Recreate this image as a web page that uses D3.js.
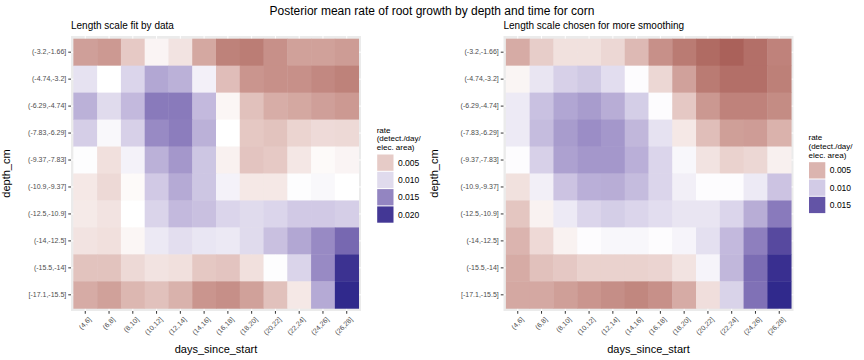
<!DOCTYPE html>
<html>
<head>
<meta charset="utf-8">
<script src="https://cdnjs.cloudflare.com/ajax/libs/d3/7.8.5/d3.min.js"></script>
<style>
  body { margin: 0; background: #fff; }
  svg { font-family: "Liberation Sans", Arial, Helvetica, sans-serif; }
</style>
</head>
<body>
<svg id="chart" width="864" height="360"></svg>
<script>
// Categories
var days = ["(4,6]", "(6,8]", "(8,10]", "(10,12]", "(12,14]", "(14,16]",
            "(16,18]", "(18,20]", "(20,22]", "(22,24]", "(24,26]", "(26,28]"];
var depths = ["(-3.2,-1.66]", "(-4.74,-3.2]", "(-6.29,-4.74]", "(-7.83,-6.29]", "(-9.37,-7.83]",
              "(-10.9,-9.37]", "(-12.5,-10.9]", "(-14,-12.5]", "(-15.5,-14]", "[-17.1,-15.5]"];

// Posterior mean rates, one row per depth (top to bottom), one column per day bin
var rateFit = [
  [0.0024, 0.0020, 0.0049, 0.0074, 0.0064, 0.0029, 0.0006, 0.0003, 0.0015, 0.0025, 0.0025, 0.0022],
  [0.0096, 0.0080, 0.0103, 0.0130, 0.0124, 0.0088, 0.0042, 0.0018, 0.0015, 0.0015, 0.0010, 0.0006],
  [0.0124, 0.0100, 0.0119, 0.0157, 0.0157, 0.0119, 0.0075, 0.0044, 0.0032, 0.0029, 0.0024, 0.0020],
  [0.0107, 0.0084, 0.0106, 0.0147, 0.0155, 0.0124, 0.0080, 0.0048, 0.0045, 0.0055, 0.0059, 0.0058],
  [0.0081, 0.0062, 0.0087, 0.0124, 0.0139, 0.0112, 0.0072, 0.0046, 0.0049, 0.0066, 0.0077, 0.0074],
  [0.0067, 0.0058, 0.0077, 0.0110, 0.0128, 0.0112, 0.0087, 0.0067, 0.0067, 0.0081, 0.0084, 0.0080],
  [0.0068, 0.0064, 0.0080, 0.0104, 0.0119, 0.0115, 0.0103, 0.0100, 0.0103, 0.0110, 0.0110, 0.0107],
  [0.0064, 0.0062, 0.0075, 0.0092, 0.0098, 0.0094, 0.0092, 0.0100, 0.0115, 0.0130, 0.0147, 0.0168],
  [0.0045, 0.0045, 0.0058, 0.0064, 0.0062, 0.0048, 0.0046, 0.0062, 0.0081, 0.0104, 0.0147, 0.0204],
  [0.0031, 0.0025, 0.0038, 0.0044, 0.0035, 0.0018, 0.0014, 0.0025, 0.0044, 0.0067, 0.0128, 0.0210]
];
var rateSmooth = [
  [0.0046, 0.0060, 0.0068, 0.0068, 0.0064, 0.0052, 0.0035, 0.0026, 0.0019, 0.0015, 0.0021, 0.0029],
  [0.0076, 0.0090, 0.0098, 0.0101, 0.0093, 0.0081, 0.0064, 0.0042, 0.0026, 0.0021, 0.0021, 0.0028],
  [0.0088, 0.0104, 0.0115, 0.0119, 0.0112, 0.0099, 0.0081, 0.0058, 0.0038, 0.0029, 0.0029, 0.0033],
  [0.0088, 0.0106, 0.0119, 0.0125, 0.0121, 0.0108, 0.0091, 0.0071, 0.0054, 0.0041, 0.0040, 0.0049],
  [0.0081, 0.0098, 0.0117, 0.0121, 0.0121, 0.0111, 0.0096, 0.0083, 0.0069, 0.0062, 0.0064, 0.0074],
  [0.0068, 0.0086, 0.0103, 0.0111, 0.0112, 0.0106, 0.0096, 0.0086, 0.0081, 0.0081, 0.0088, 0.0103],
  [0.0057, 0.0075, 0.0088, 0.0096, 0.0099, 0.0096, 0.0093, 0.0090, 0.0090, 0.0096, 0.0112, 0.0133],
  [0.0050, 0.0065, 0.0075, 0.0081, 0.0083, 0.0083, 0.0081, 0.0084, 0.0092, 0.0107, 0.0131, 0.0155],
  [0.0046, 0.0055, 0.0058, 0.0062, 0.0062, 0.0062, 0.0063, 0.0069, 0.0084, 0.0108, 0.0139, 0.0167],
  [0.0045, 0.0045, 0.0041, 0.0037, 0.0034, 0.0031, 0.0035, 0.0046, 0.0067, 0.0097, 0.0137, 0.0170]
];

// Legend breaks
var breaksFit = [0.005, 0.010, 0.015, 0.020];
var breaksSmooth = [0.005, 0.010, 0.015];

var midpoint = 0.008;  // white point of the diverging fill
var lowColor = "#832424", highColor = "#30298C";

var svg = d3.select("#chart");

// Main title
svg.append("text")
    .attr("x", 432).attr("y", 14.5)
    .attr("text-anchor", "middle")
    .style("font-size", "12px")
    .text("Posterior mean rate of root growth by depth and time for corn");

// Draw one heatmap panel with its axes and legend
function drawPanel(opts) {
    var left = opts.left, top = 36, width = 290, height = 275;

    var x = d3.scaleBand().domain(days).range([left, left + width]).paddingInner(0).paddingOuter(0.1);
    var y = d3.scaleBand().domain(depths).range([top, top + height]).paddingInner(0).paddingOuter(0.1);

    // ggplot style gradient2: symmetric around midpoint
    var flat = d3.merge(opts.rates);
    var span = d3.max(flat, function(v) { return Math.abs(v - midpoint); });
    var color = d3.scaleDiverging()
        .domain([midpoint - span, midpoint, midpoint + span])
        .interpolator(d3.piecewise(d3.interpolateLab, [lowColor, "#ffffff", highColor]));

    var g = svg.append("g");

    // subtitle
    g.append("text")
        .attr("x", left).attr("y", 28.5)
        .style("font-size", "10px")
        .text(opts.title);

    // panel background
    g.append("rect")
        .attr("x", left).attr("y", top)
        .attr("width", width).attr("height", height)
        .attr("fill", "#EBEBEB");

    // grid lines (only visible in the margins)
    g.selectAll(".vgrid").data(days).enter().append("line")
        .attr("x1", function(d) { return x(d) + x.bandwidth() / 2; })
        .attr("x2", function(d) { return x(d) + x.bandwidth() / 2; })
        .attr("y1", top).attr("y2", top + height)
        .attr("stroke", "#fff").attr("stroke-width", 1);
    g.selectAll(".hgrid").data(depths).enter().append("line")
        .attr("y1", function(d) { return y(d) + y.bandwidth() / 2; })
        .attr("y2", function(d) { return y(d) + y.bandwidth() / 2; })
        .attr("x1", left).attr("x2", left + width)
        .attr("stroke", "#fff").attr("stroke-width", 1);

    // tiles
    var cells = [];
    opts.rates.forEach(function(row, i) {
        row.forEach(function(v, j) {
            cells.push({ depth: depths[i], day: days[j], rate: v });
        });
    });
    g.selectAll(".tile").data(cells).enter().append("rect")
        .attr("class", "tile")
        .attr("x", function(d) { return x(d.day); })
        .attr("y", function(d) { return y(d.depth); })
        .attr("width", x.bandwidth() + 0.4)
        .attr("height", y.bandwidth() + 0.4)
        .attr("fill", function(d) { return color(d.rate); });

    // y axis
    var yAxis = g.append("g")
        .attr("transform", "translate(" + left + ",0)")
        .call(d3.axisLeft(y).tickSize(2.75).tickPadding(2));
    yAxis.select(".domain").remove();
    yAxis.selectAll("line").attr("stroke", "#333333");
    yAxis.selectAll("text").attr("fill", "#4D4D4D").style("font-size", "7px")
        .style("font-family", "'Liberation Sans', Arial, sans-serif");

    // x axis with rotated labels
    var xAxis = g.append("g")
        .attr("transform", "translate(0," + (top + height) + ")")
        .call(d3.axisBottom(x).tickSize(2.75));
    xAxis.select(".domain").remove();
    xAxis.selectAll("line").attr("stroke", "#333333");
    xAxis.selectAll("text")
        .attr("fill", "#4D4D4D").style("font-size", "7px")
        .style("font-family", "'Liberation Sans', Arial, sans-serif")
        .attr("text-anchor", "end")
        .attr("x", 0).attr("y", 0).attr("dy", "0.7em")
        .attr("transform", "translate(3,5.5) rotate(-45)");

    // axis titles
    g.append("text")
        .attr("x", left + width / 2).attr("y", 353)
        .attr("text-anchor", "middle")
        .style("font-size", "11px")
        .text("days_since_start");
    g.append("text")
        .attr("transform", "translate(" + opts.yTitleX + "," + (top + height / 2) + ") rotate(-90)")
        .attr("text-anchor", "middle")
        .style("font-size", "11px")
        .text("depth_cm");

    // legend
    var keySize = 17.3;
    var lg = g.append("g").attr("transform", "translate(" + opts.legendX + "," + opts.legendY + ")");
    ["rate", "(detect./day/", "elec. area)"].forEach(function(line, i) {
        lg.append("text")
            .attr("x", 0).attr("y", -21.5 + i * 8.7)
            .style("font-size", "8px")
            .text(line);
    });
    var keys = lg.selectAll(".key").data(opts.breaks).enter().append("g")
        .attr("transform", function(d, i) { return "translate(0," + (i * keySize) + ")"; });
    keys.append("rect")
        .attr("x", 0.5).attr("y", 0.5)
        .attr("width", keySize - 1).attr("height", keySize - 1)
        .attr("fill", function(d) { return color(d); });
    keys.append("text")
        .attr("x", keySize + 4).attr("y", keySize / 2)
        .attr("dy", "0.35em")
        .style("font-size", "8.5px")
        .text(function(d) { return d3.format(".3f")(d); });
}

drawPanel({ left: 71, rates: rateFit, breaks: breaksFit, title: "Length scale fit by data",
            yTitleX: 9.5, legendX: 376.7, legendY: 154 });
drawPanel({ left: 503.5, rates: rateSmooth, breaks: breaksSmooth, title: "Length scale chosen for more smoothing",
            yTitleX: 438, legendX: 808.5, legendY: 161.7 });
</script>
</body>
</html>
